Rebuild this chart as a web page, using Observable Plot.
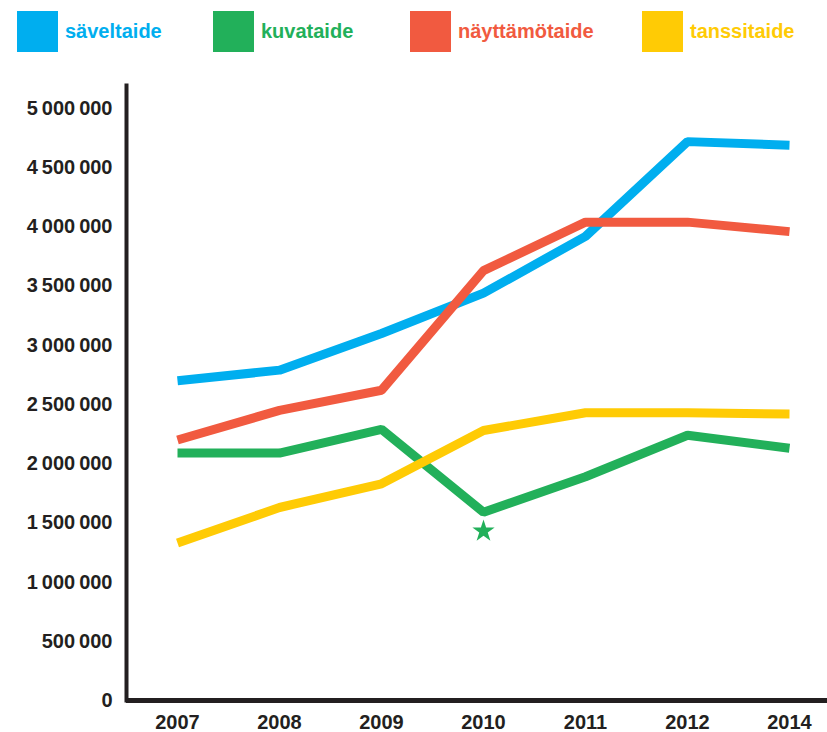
<!DOCTYPE html>
<html>
<head>
<meta charset="utf-8">
<script src="https://cdn.jsdelivr.net/npm/d3@7"></script>
<script src="https://cdn.jsdelivr.net/npm/@observablehq/plot@0.6"></script>
<style>
  html, body { margin: 0; padding: 0; background: #fff; }
  body { width: 827px; height: 732px; overflow: hidden; font-family: "Liberation Sans", Arial, sans-serif; }
  #legend { position: relative; height: 70px; width: 827px; }
  .item { position: absolute; top: 11px; height: 41px; display: flex; align-items: center; }
  .sw { width: 41px; height: 41px; margin-right: 7px; }
  .lab { font-weight: bold; font-size: 20px; }
  #chart svg { display: block; }
</style>
</head>
<body>
<div id="legend"></div>
<div id="chart"></div>
<script>
const years = ["2007", "2008", "2009", "2010", "2011", "2012", "2014"];
const seriesNames = ["säveltaide", "kuvataide", "näyttämötaide", "tanssitaide"];
const seriesColors = ["#00aeef", "#22b05a", "#f15a40", "#ffcb05"];
const saveltaide = [2700000, 2790000, 3100000, 3440000, 3920000, 4720000, 4690000];
const kuvataide = [2090000, 2090000, 2290000, 1590000, 1890000, 2240000, 2130000];
const nayttamotaide = [2200000, 2450000, 2620000, 3630000, 4040000, 4040000, 3960000];
const tanssitaide = [1330000, 1630000, 1830000, 2280000, 2430000, 2430000, 2420000];
const yTicks = [0, 500000, 1000000, 1500000, 2000000, 2500000, 3000000, 3500000, 4000000, 4500000, 5000000];
const starYear = "2010";
const starValue = 1430000;

const allValues = [saveltaide, kuvataide, nayttamotaide, tanssitaide];
const data = [];
seriesNames.forEach((s, i) => {
  years.forEach((y, j) => data.push({series: s, year: y, value: allValues[i][j]}));
});

// Legend
const legendX = [17, 213, 410, 642];
const legend = document.getElementById("legend");
seriesNames.forEach((s, i) => {
  const it = document.createElement("div");
  it.className = "item";
  it.style.left = legendX[i] + "px";
  it.innerHTML = `<div class="sw" style="background:${seriesColors[i]}"></div><span class="lab" style="color:${seriesColors[i]}">${s}</span>`;
  legend.appendChild(it);
});

const fmt = d3.formatLocale({decimal: ",", thousands: "\u2009", grouping: [3], currency: ["", ""]}).format(",");
const ink = "#231f20";

const chart = Plot.plot({
  width: 827,
  height: 662,
  marginLeft: 126,
  marginRight: 0,
  marginTop: 15,
  marginBottom: 32,
  style: {fontFamily: "'Liberation Sans', Arial, sans-serif", fontSize: "20px", fontWeight: "bold", color: ink, background: "#fff"},
  x: {type: "point", domain: years, range: [177, 789], padding: 0},
  y: {domain: [0, 5194000]},
  color: {domain: seriesNames, range: seriesColors},
  marks: [
    Plot.axisY({ticks: yTicks, tickSize: 0, tickPadding: 14, tickFormat: fmt, label: null}),
    Plot.axisX({tickSize: 0, tickPadding: 14, label: null}),
    Plot.line(data, {x: "year", y: "value", z: "series", stroke: "series", strokeWidth: 9, strokeLinejoin: "miter", strokeLinecap: "butt"}),
    Plot.dot([{year: starYear, value: starValue}], {x: "year", y: "value", symbol: "star", fill: seriesColors[1], r: 7}),
    Plot.frame({anchor: "left", stroke: ink, strokeWidth: 4}),
    Plot.ruleY([0], {stroke: ink, strokeWidth: 5})
  ]
});
document.getElementById("chart").appendChild(chart);
</script>
</body>
</html>
